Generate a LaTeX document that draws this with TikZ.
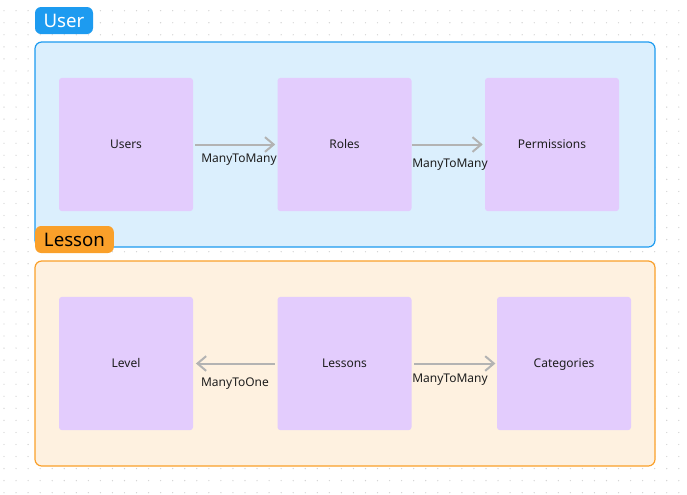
\documentclass[tikz,border=0pt]{standalone}
\usepackage{fontspec}
\setmainfont{Noto Sans}
\usetikzlibrary{arrows.meta}
\definecolor{bluetab}{HTML}{1D9BF0}
\definecolor{bluefill}{HTML}{DBEFFD}
\definecolor{orangetab}{HTML}{FAA02A}
\definecolor{orangefill}{HTML}{FEF1E0}
\definecolor{boxfill}{HTML}{E3CCFD}
\definecolor{arrowgray}{HTML}{B3B3B3}
\definecolor{dotgray}{HTML}{D2D2D2}
\definecolor{textdark}{HTML}{1E1E1E}
\tikzset{
  entity/.style={fill=boxfill, rounded corners=2.25pt, minimum width=100.5pt, minimum height=100pt, inner sep=0pt, font=\fontsize{9}{11}\selectfont, text=textdark, text height=6.6pt, text depth=0pt},
  frame/.style={line width=0.9pt, rounded corners=5pt},
  tab/.style={rounded corners=4.5pt, inner sep=0pt, minimum height=20.25pt, font=\fontsize{14}{16}\selectfont, text height=10pt, text depth=0pt},
  rel/.style={draw=arrowgray, line width=1.5pt, -{Straight Barb[length=6.5pt,width=11pt,line width=1.5pt]}},
  rellabel/.style={font=\fontsize{9}{11}\selectfont, text=textdark, inner sep=0pt, text height=6.6pt, text depth=0pt}
}
\begin{document}
\begin{tikzpicture}[x=0.75pt,y=-0.75pt]
\useasboundingbox (0,0) rectangle (687,494);
\fill[white] (0,0) rectangle (687,494);
% dot grid
\foreach \i in {0,...,56}{
  \foreach \j in {0,...,40}{
    \fill[dotgray] (4+12.05*\i, 10.7+12.05*\j) circle (0.5pt);
  }
}
% User group
\draw[frame, draw=bluetab, fill=bluefill] (35,42) rectangle (655,247);
\node[tab, fill=bluetab, text=white, minimum width=43.5pt] (usertab) at (64,20.5) {User};
\node[entity] (users) at (126,144.5) {Users};
\node[entity] (roles) at (344.5,144.5) {Roles};
\node[entity] (perms) at (552,144.5) {Permissions};
\draw[rel] ([xshift=1.5]users.east) -- ([xshift=-1.5]roles.west);
\draw[rel] (roles.east) -- ([xshift=-1.5]perms.west);
\node[rellabel] (l1) at (239,158.5) {ManyToMany};
\node[rellabel] (l2) at (450,163.5) {ManyToMany};
% Lesson group
\draw[frame, draw=orangetab, fill=orangefill] (35,261) rectangle (655,466);
\node[tab, fill=orangetab, text=black, minimum width=59pt] (lessontab) at (74.5,239.5) {Lesson};
\node[entity] (level) at (126,363.5) {Level};
\node[entity] (lessons) at (344.5,363.5) {Lessons};
\node[entity] (cats) at (564,363.5) {Categories};
\draw[rel] ([xshift=-2]lessons.west) -- ([xshift=2]level.east);
\draw[rel] ([xshift=2]lessons.east) -- ([xshift=-1]cats.west);
\node[rellabel] (l3) at (235,382.5) {ManyToOne};
\node[rellabel] (l4) at (450,378.5) {ManyToMany};
\end{tikzpicture}
\end{document}
